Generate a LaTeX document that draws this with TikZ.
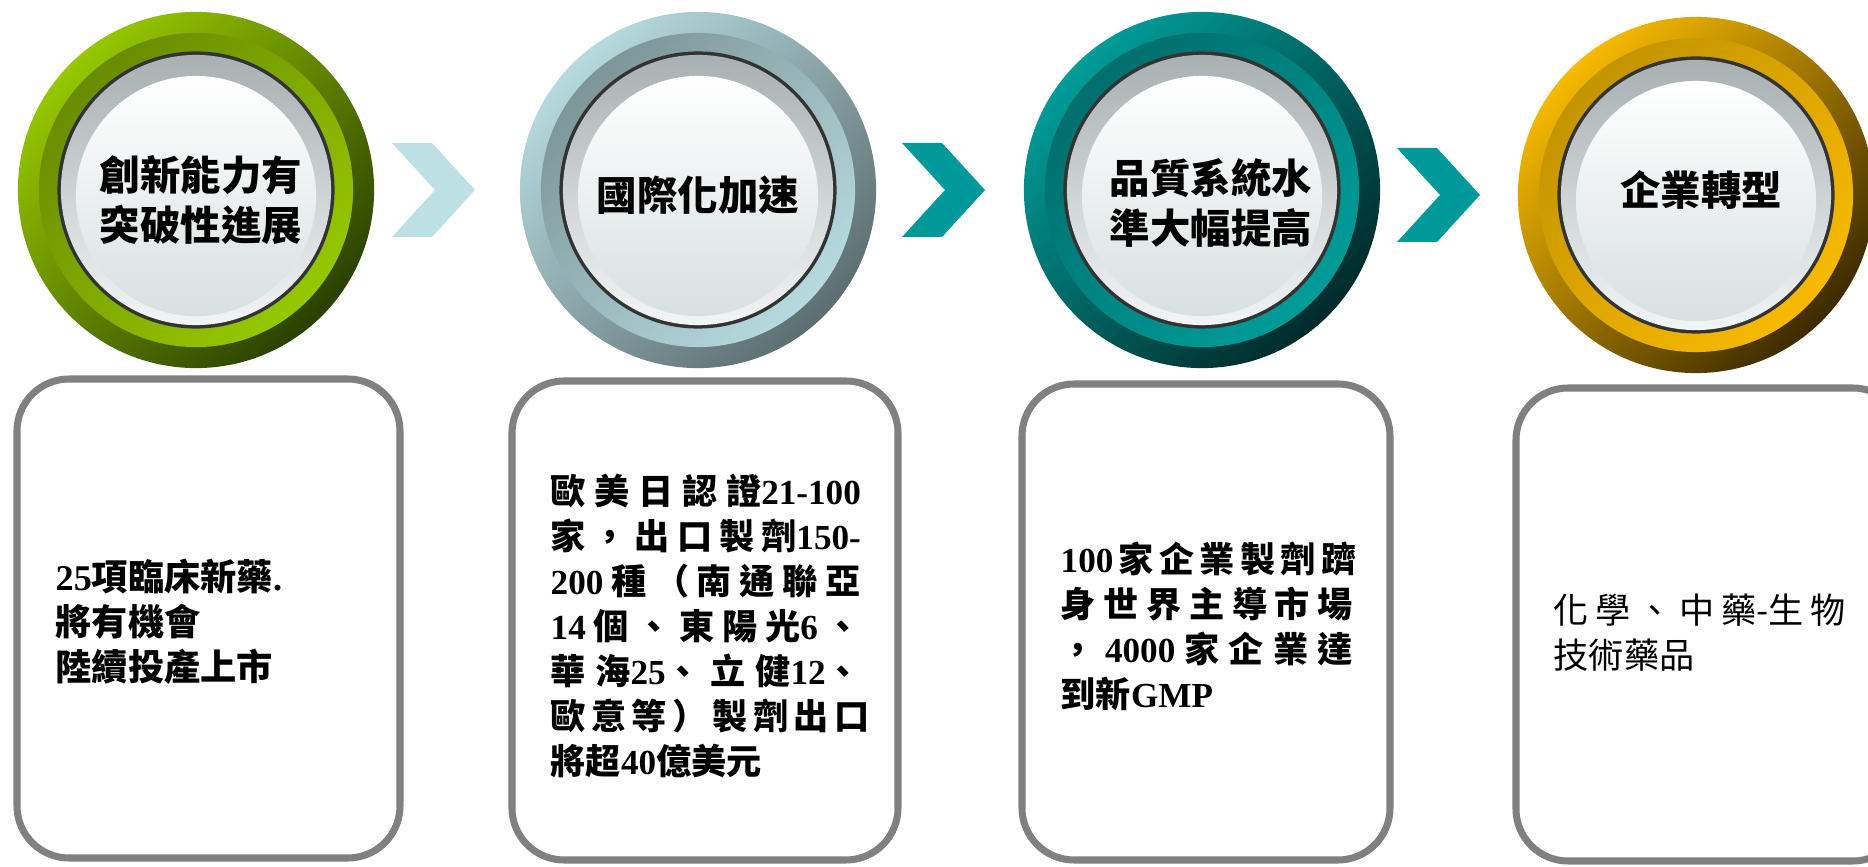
\documentclass[tikz,border=0pt]{standalone}
\usepackage{fontspec}
\setmainfont{Noto Sans CJK TC}
\newfontfamily\tnr{Liberation Serif}[UprightFont={* Bold}, BoldFont={* Bold}]

\definecolor{grnLight}{HTML}{96C800}
\definecolor{grnDark}{HTML}{2A4000}
\definecolor{grnBand}{HTML}{688C00}
\definecolor{iceLight}{HTML}{B6DADE}
\definecolor{iceDark}{HTML}{5C6E70}
\definecolor{iceBand}{HTML}{7D9698}
\definecolor{tealLight}{HTML}{009C98}
\definecolor{tealDark}{HTML}{002A2A}
\definecolor{tealBand}{HTML}{006E6C}
\definecolor{goldLight}{HTML}{F7BA00}
\definecolor{goldDark}{HTML}{3C2A00}
\definecolor{goldBand}{HTML}{C49400}
\definecolor{rimBlack}{HTML}{333333}
\definecolor{discTop}{HTML}{A8B0B2}
\definecolor{discBottom}{HTML}{F2F5F5}
\definecolor{discMid}{HTML}{C8D0D2}
\definecolor{discLow}{HTML}{D8E0E1}
\definecolor{arrowPale}{HTML}{BCE0E3}
\definecolor{arrowTeal}{HTML}{009999}
\definecolor{boxGray}{HTML}{808080}

% badge: x, y, light, dark, band
\newcommand{\badge}[5]{%
  \shade[top color=#3, bottom color=#4, shading angle=45] (#1,#2) circle (1.78cm);
  \shade[top color=#5, bottom color=#3, shading angle=45] (#1,#2) circle (1.57cm);
  \fill[rimBlack] (#1,#2) circle (1.385cm);
  \shade[top color=discTop, bottom color=discBottom] (#1,#2) circle (1.35cm);
  \shade[top color=white, middle color=discMid, bottom color=discLow] (#1,{#2+6}) circle (1.2cm);
}
% chevron: x, y of top left corner, colour
\newcommand{\chevron}[3]{%
  \fill[#3] (#1,#2) -- ++(40,0) -- ++(43,47) -- ++(-43,47) -- ++(-40,0) -- ++(43,-47) -- cycle;
}
\newcommand{\spread}[2]{\makebox[#1][s]{#2}}

\begin{document}
\begin{tikzpicture}[x=0.01cm, y=-0.01cm,
  circtext/.style={align=center, inner sep=0pt, font=\bfseries\fontsize{11.5}{14.2}\selectfont},
  boxtext/.style={anchor=west, align=left, inner sep=0pt, font=\bfseries\fontsize{10}{12.8}\selectfont},
  panel/.style={draw=boxGray, line width=2pt, rounded corners=0.52cm}]

  \useasboundingbox (0,0) rectangle (1868,867);
  \clip (0,0) rectangle (1868,867);

  % --- step 1 ---
  \badge{196}{190}{grnLight}{grnDark}{grnBand}
  \node[circtext] (t1) at (201,200) {創新能力有\\突破性進展};

  % --- step 2 ---
  \badge{698}{190}{iceLight}{iceDark}{iceBand}
  \node[circtext] (t2) at (698,195) {國際化加速};

  % --- step 3 ---
  \badge{1202}{190}{tealLight}{tealDark}{tealBand}
  \node[circtext] (t3) at (1211,203) {品質系統水\\準大幅提高};

  % --- step 4 ---
  \badge{1696}{195}{goldLight}{goldDark}{goldBand}
  \node[circtext] (t4) at (1701,190) {企業轉型};

  % --- chevrons ---
  \chevron{392}{143}{arrowPale}
  \chevron{902}{143}{arrowTeal}
  \chevron{1397}{148}{arrowTeal}

  % --- panels ---
  \draw[panel] (17,379) rectangle (400,858);
  \draw[panel] (512,381) rectangle (898,860);
  \draw[panel] (1022,384) rectangle (1390,860);
  \draw[panel] (1516,388) rectangle (1905,861);

  % --- panel texts ---
  \node[boxtext, font=\bfseries\fontsize{10.3}{12.8}\selectfont] (d1) at (55,622)
    {{\tnr 25}項臨床新藥{\tnr .}\\將有機會\\陸續投產上市};
  \node[boxtext] (d2) at (550,626)
    {\spread{3.1cm}{歐 美 日 認 證{\tnr 21-100}}\\
     \spread{3.1cm}{家 ， 出 口 製 劑{\tnr 150-}}\\
     \spread{3.1cm}{{\tnr 200} 種 （ 南 通 聯 亞}\\
     \spread{3.1cm}{{\tnr 14} 個 、 東 陽 光{\tnr 6} 、}\\
     \spread{3.1cm}{華 海{\tnr 25}、 立 健{\tnr 12}、}\\
     \spread{3.1cm}{歐 意 等 ） 製 劑 出 口}\\
     將超{\tnr 40}億美元};
  \node[boxtext] (d3) at (1060,626)
    {\spread{2.92cm}{{\tnr 100} 家 企 業 製 劑 躋}\\
     \spread{2.92cm}{身 世 界 主 導 市 場}\\
     \spread{2.92cm}{， {\tnr 4000} 家 企 業 達}\\
     到新{\tnr GMP}};
  \node[boxtext, font=\fontsize{10}{12.8}\selectfont] (d4) at (1553,633)
    {\spread{2.92cm}{化 學 、 中 藥-生 物}\\技術藥品};

\end{tikzpicture}
\end{document}
